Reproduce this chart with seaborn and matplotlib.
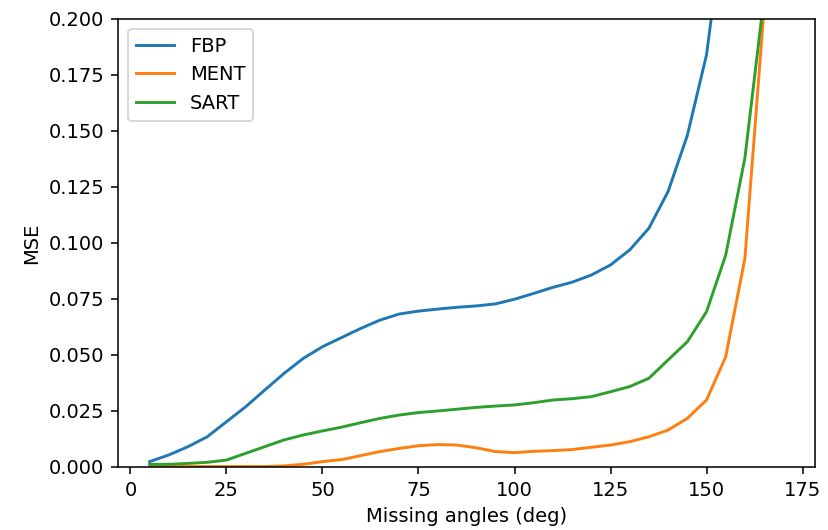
import matplotlib
matplotlib.use("Agg")
import matplotlib.pyplot as plt
import seaborn as sns

# Missing angular range (degrees)
angles = [5, 10, 15, 20, 25, 30, 35, 40, 45, 50, 55, 60, 65, 70, 75, 80, 85,
          90, 95, 100, 105, 110, 115, 120, 125, 130, 135, 140, 145, 150, 155,
          160, 165, 170]

# Mean squared error per reconstruction method
mse_fbp = [0.0024, 0.0054, 0.0091, 0.0135, 0.0202, 0.0269, 0.0344, 0.0418,
           0.0485, 0.0537, 0.0578, 0.0619, 0.0656, 0.0683, 0.0696, 0.0705,
           0.0713, 0.0719, 0.0728, 0.0749, 0.0775, 0.0802, 0.0825, 0.0857,
           0.0902, 0.0969, 0.1066, 0.1230, 0.1480, 0.1840, 0.2500, 0.3300,
           0.4500, 0.6000]
mse_ment = [0.0002, 0.0002, 0.0002, 0.0002, 0.0002, 0.0002, 0.0002, 0.0005,
            0.0012, 0.0024, 0.0033, 0.0051, 0.0069, 0.0083, 0.0095, 0.0100,
            0.0098, 0.0086, 0.0069, 0.0064, 0.0070, 0.0073, 0.0078, 0.0088,
            0.0098, 0.0113, 0.0135, 0.0165, 0.0217, 0.0299, 0.0492, 0.0932,
            0.2050, 0.3300]
mse_sart = [0.0012, 0.0012, 0.0016, 0.0021, 0.0031, 0.0061, 0.0091, 0.0121,
            0.0143, 0.0161, 0.0178, 0.0198, 0.0217, 0.0232, 0.0243, 0.0250,
            0.0258, 0.0266, 0.0272, 0.0277, 0.0287, 0.0299, 0.0305, 0.0314,
            0.0336, 0.0359, 0.0396, 0.0478, 0.0559, 0.0693, 0.0946, 0.1380,
            0.2100, 0.3200]

series = {"FBP": mse_fbp, "MENT": mse_ment, "SART": mse_sart}

DPI = 140
fig, ax = plt.subplots(figsize=(828 / DPI, 530 / DPI), dpi=DPI)
for name, values in series.items():
    sns.lineplot(x=angles, y=values, label=name, ax=ax)

ax.set_ylim(0, 0.2)
ax.set_xlabel("Missing angles (deg)")
ax.set_ylabel("MSE")
ax.legend(loc="upper left")

fig.subplots_adjust(left=118 / 828, right=815 / 828, top=1 - 19 / 530,
                    bottom=1 - 467 / 530)
fig.savefig("out.png", dpi=DPI)
